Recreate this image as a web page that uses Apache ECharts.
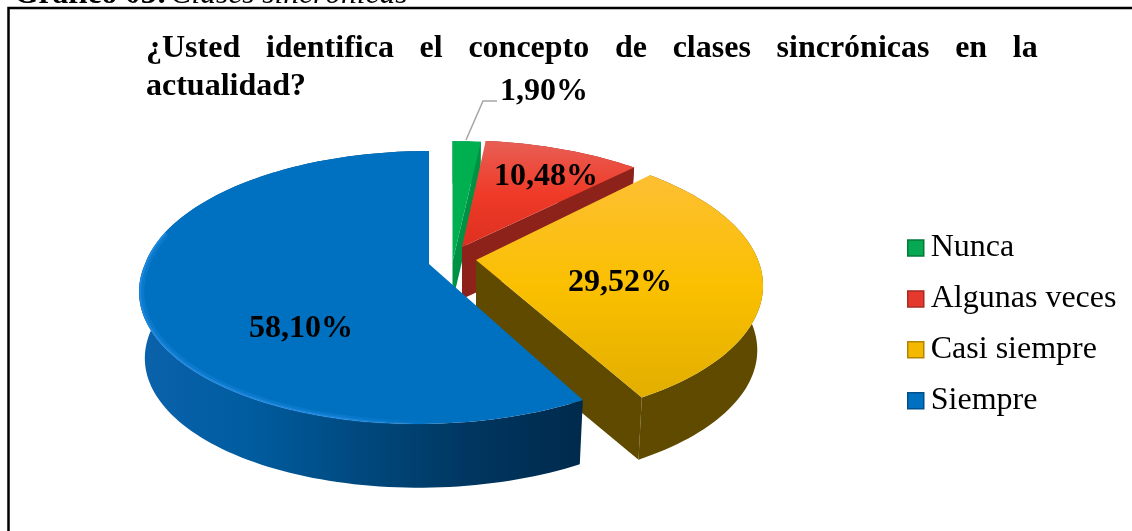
<!DOCTYPE html>
<html><head><meta charset="utf-8">
<script src="https://cdn.jsdelivr.net/npm/echarts@6/dist/echarts.min.js"></script>
<style>html,body{margin:0;padding:0;background:#fff}#c{width:1132px;height:531px}</style>
</head><body><div id="c"></div>
<script>
var categories = ['Nunca', 'Algunas veces', 'Casi siempre', 'Siempre'];
var values = [1.90, 10.48, 29.52, 58.10];

// projection of the tilted pie
var RX = 284, RY = 132.4, PERSP = 0.172, DROP = 0.98;
var layout = [
  {ax:452.5, ay:262, sx:0.98, sy:1.07, depth:40, skew:0, label:[544,92],
   top:['#00B050','#00B050'], side:'#009244', wall:['#009244','#009244']},
  {ax:462, ay:247, sx:0.99, sy:0.945, depth:52, skew:0.046, label:[546,177],
   top:['#E85F55','#EF3A28','#DD3020'], side:'#8C2219', wall:['#8C2219','#8C2219']},
  {ax:476, ay:260, sx:0.993, sy:1.01, depth:65, skew:0.03, label:[620,283],
   top:['#FDBF33','#FAC000','#E2AE00'], side:'#5F4A00', wall:['#5F4A00','#5F4A00']},
  {ax:429, ay:264, sx:1, sy:1, depth:67, skew:0, lowSkew:-0.066, label:[301,329], rim:'#2A92EC',
   top:['#0070C0','#0070C0'], side:'#00406F', wall:['#0B62AC','#005C9F','#00497E','#003660','#002A4C']}
];
var total = values.reduce(function(a,b){return a+b;},0);

function pt(s, deg, dropped, inset){
  var t = deg*Math.PI/180, u = Math.sin(t), v = Math.cos(t), w = 1+PERSP*v;
  var k = dropped ? DROP : (inset || 1);
  var dy = -RY*s.sy*v/w;
  var x = RX*s.sx*u/w + s.skew*dy + (s.lowSkew && dy>0 ? s.lowSkew*dy : 0);
  return [s.ax + k*x, s.ay + k*dy + (dropped ? s.depth : 0)];
}
function arc(s,a,b,dropped,inset){
  var r=[], n=Math.max(6,Math.ceil((b-a)/1.5));
  for(var i=0;i<=n;i++) r.push(pt(s,a+(b-a)*i/n,dropped,inset));
  return r;
}
function stops(c){return c.map(function(col,i){return {offset:c.length>1?i/(c.length-1):0,color:col};});}
function pctText(v){return v.toFixed(2).replace('.',',')+'%';}

function renderer(i){
  var before = 0; for(var j=0;j<i;j++) before+=values[j];
  return function(params, api){
    var v = api.value(0), s = layout[i];
    var a = before/total*360, b = (before+v)/total*360;
    var topArc = arc(s,a,b,false), lowArc = arc(s,a,b,true).reverse();
    var apex = [s.ax,s.ay], apexLow=[s.ax,s.ay+s.depth];
    var endT = pt(s,b,false), endL = pt(s,b,true);
    var kids = [
      {type:'polygon',shape:{points:topArc.concat(lowArc)},
       style:{fill:new echarts.graphic.LinearGradient(0,0,1,0,stops(s.wall))}},
      {type:'polygon',shape:{points:[apex,endT,endL,apexLow]},style:{fill:s.side}},
      {type:'polygon',shape:{points:[apex].concat(topArc)},
       style:{fill:new echarts.graphic.LinearGradient(0,0,0,1,stops(s.top))}}
    ];
    if(s.rim){
      var fade=function(op){return new echarts.graphic.LinearGradient(0,0,1,0,[
        {offset:0,color:'rgba(42,146,236,'+op+')'},{offset:0.7,color:'rgba(42,146,236,'+op+')'},{offset:1,color:'rgba(42,146,236,0)'}]);};
      kids.push({type:'polyline',shape:{points:arc(s,178,284,false,0.99)},style:{stroke:fade(0.25),lineWidth:5,fill:null}});
      kids.push({type:'polyline',shape:{points:arc(s,178,284,false,0.996)},style:{stroke:fade(0.55),lineWidth:2,fill:null}});
    }
    kids.push({type:'text',z2:50,style:{text:pctText(v),x:s.label[0],y:s.label[1],align:'center',verticalAlign:'middle',
        font:'bold 32px "Liberation Serif"',fill:'#000'}});
    if(i===0) kids.push({type:'polyline',shape:{points:[[466,140],[483,101],[497,101]]},
      style:{stroke:'#A6A6A6',lineWidth:1.5,fill:null}});
    return {type:'group',children:kids};
  };
}
var colors=['#06A851','#E5392D','#F4B800','#0070C0'];
var edges=['#047A3A','#A82A20','#B08600','#00508C'];
var series = categories.map(function(name,i){
  return {type:'custom',name:name,coordinateSystem:'none',silent:true,animation:false,clip:false,
    itemStyle:{color:colors[i]},data:[[values[i]]],renderItem:renderer(i)};
});
var titleLine='{b|¿Usted}{g| }{b|identifica}{g| }{b|el}{g| }{b|concepto}{g| }{b|de}{g| }{b|clases}{g| }{b|sincrónicas}{g| }{b|en}{g| }{b|la}\n{b|actualidad?}';
var chart = echarts.init(document.getElementById('c'),null,{renderer:'canvas'});
chart.setOption({
  animation:false,backgroundColor:'#fff',
  title:{text:titleLine,left:146,top:30,padding:0,
    textStyle:{rich:{
      b:{fontFamily:'Liberation Serif',fontWeight:'bold',fontSize:32,lineHeight:38,color:'#000'},
      g:{width:25.7,fontSize:32,lineHeight:38}
    }}},
  legend:{orient:'vertical',left:907,top:232,padding:0,itemWidth:16,itemHeight:16,itemGap:18.9,icon:'rect',selectedMode:false,
    data:categories.map(function(n,i){return {name:n,itemStyle:{borderColor:edges[i],borderWidth:1.5}};}),
    textStyle:{fontFamily:'Liberation Serif',fontSize:32,color:'#000',padding:[0,0,0,2]}},
  graphic:[
    {type:'rect',shape:{x:8.5,y:8,width:1140,height:560},style:{fill:null,stroke:'#000',lineWidth:2.5},z:-1,silent:true},
    {type:'text',silent:true,style:{x:14,y:-21,text:'{b|Gráfico 03:} {i|Clases sincrónicas}',
      rich:{b:{font:'bold 31.5px "Liberation Serif"',fill:'#000'},i:{font:'italic 31.5px "Liberation Serif"',fill:'#000'}}}}
  ],
  series:series
});
</script></body></html>
